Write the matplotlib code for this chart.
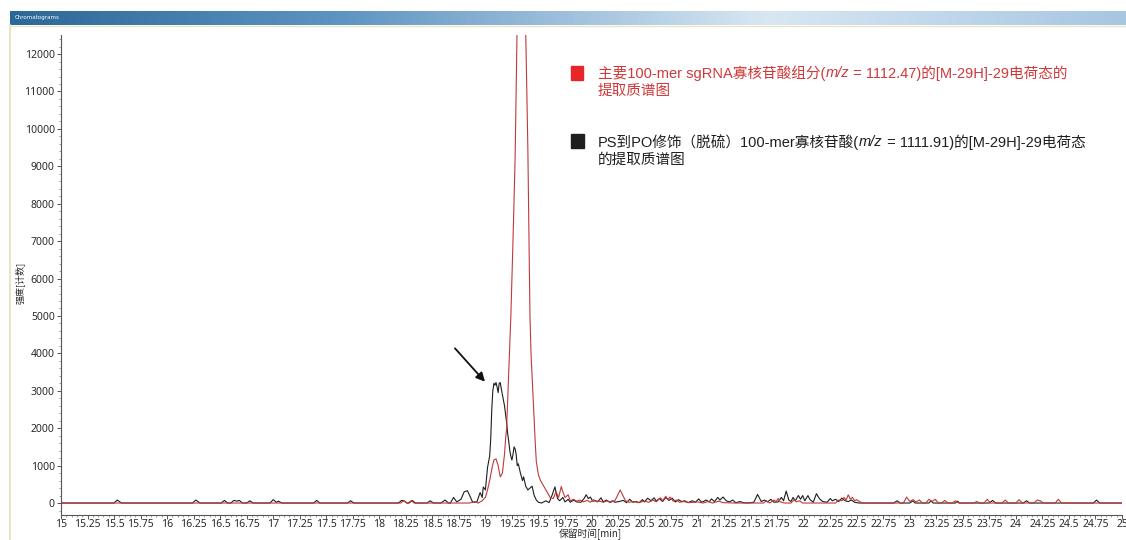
import matplotlib
matplotlib.use("Agg")
import matplotlib.pyplot as plt
import numpy as np
from matplotlib.ticker import MultipleLocator, FixedLocator
from matplotlib.colors import LinearSegmentedColormap

plt.rcParams['font.family'] = ['Noto Sans', 'Noto Sans CJK SC', 'DejaVu Sans']

# ---------------- data ----------------
x_ticks = [15, 15.25, 15.5, 15.75, 16, 16.25, 16.5, 16.75, 17, 17.25, 17.5, 17.75, 18,
           18.25, 18.5, 18.75, 19, 19.25, 19.5, 19.75, 20, 20.25, 20.5, 20.75, 21, 21.25,
           21.5, 21.75, 22, 22.25, 22.5, 22.75, 23, 23.25, 23.5, 23.75, 24, 24.25, 24.5,
           24.75, 25]
y_ticks = [0, 1000, 2000, 3000, 4000, 5000, 6000, 7000, 8000, 9000, 10000, 11000, 12000]

# PS->PO (desulfurised) trace, black
black_t = [15.00, 15.50, 15.53, 15.57, 16.24, 16.27, 16.31, 16.51, 16.54, 16.57, 16.60, 16.63,
           16.66, 16.68, 16.71, 16.75, 16.78, 16.81, 16.97, 17.00, 17.03, 17.05, 17.08, 17.38,
           17.41, 17.44, 17.70, 17.73, 17.76, 18.18, 18.21, 18.24, 18.26, 18.28, 18.31, 18.34,
           18.45, 18.48, 18.51, 18.58, 18.62, 18.65, 18.67, 18.70, 18.73, 18.77, 18.80, 18.83,
           18.86, 18.88, 18.92, 18.95, 18.97, 18.98, 19.00, 19.02, 19.04, 19.05, 19.06, 19.07,
           19.08, 19.09, 19.10, 19.11, 19.12, 19.13, 19.14, 19.15, 19.16, 19.18, 19.20, 19.21,
           19.22, 19.23, 19.24, 19.25, 19.26, 19.27, 19.28, 19.29, 19.30, 19.31, 19.33, 19.35,
           19.36, 19.38, 19.40, 19.42, 19.44, 19.46, 19.48, 19.50, 19.53, 19.57, 19.60, 19.63,
           19.655, 19.68, 19.70, 19.73, 19.75, 19.78, 19.80, 19.83, 19.86, 19.90, 19.93, 19.95,
           19.97, 19.99, 20.01, 20.04, 20.06, 20.09, 20.11, 20.14, 20.17, 20.20, 20.22, 20.26,
           20.30, 20.33, 20.36, 20.39, 20.42, 20.45, 20.48, 20.50, 20.53, 20.56, 20.59, 20.61,
           20.64, 20.67, 20.70, 20.73, 20.76, 20.79, 20.82, 20.85, 20.88, 20.91, 20.95, 20.98,
           21.01, 21.04, 21.08, 21.11, 21.13, 21.16, 21.19, 21.21, 21.24, 21.27, 21.30, 21.33,
           21.36, 21.40, 21.43, 21.47, 21.53, 21.565, 21.60, 21.63, 21.66, 21.69, 21.72, 21.76,
           21.79, 21.81, 21.835, 21.86, 21.88, 21.90, 21.92, 21.95, 21.97, 21.99, 22.01, 22.04,
           22.06, 22.09, 22.12, 22.15, 22.18, 22.22, 22.25, 22.27, 22.30, 22.33, 22.36, 22.39,
           22.42, 22.45, 22.48, 22.52, 22.85, 22.88, 22.91, 23.00, 23.03, 23.05, 23.18, 23.20,
           23.22, 23.43, 23.45, 23.47, 23.75, 23.78, 23.81, 24.07, 24.10, 24.13, 24.73, 24.76,
           24.79, 25.00]
black_i = [0, 0, 80, 0, 0, 80, 0, 0, 70, 0, 0, 70,
           50, 70, 0, 0, 60, 0, 0, 90, 20, 50, 0, 0,
           70, 0, 0, 60, 0, 0, 70, 50, 0, 0, 70, 0,
           0, 60, 0, 0, 80, 0, 0, 150, 30, 100, 300, 330,
           150, 20, 30, 280, 150, 430, 350, 950, 1250, 1700, 2500, 3000,
           3200, 3150, 3220, 3100, 2950, 3200, 3220, 3050, 2900, 2600, 2150, 1850,
           1650, 1400, 1250, 1150, 1300, 1500, 1450, 1300, 1000, 1050, 800, 600,
           700, 450, 350, 400, 450, 200, 80, 20, 0, 60, 10, 220,
           430, 120, 60, 150, 30, 100, 20, 80, 30, 20, 120, 220,
           120, 160, 50, 60, 40, 140, 30, 80, 20, 60, 20, 40,
           70, 10, 100, 20, 40, 10, 90, 30, 130, 60, 140, 50,
           120, 40, 150, 70, 130, 30, 90, 40, 60, 10, 60, 20,
           110, 20, 80, 30, 110, 40, 150, 80, 160, 60, 30, 80,
           10, 40, 10, 0, 20, 230, 40, 80, 30, 100, 20, 30,
           150, 60, 320, 80, 40, 150, 60, 200, 100, 200, 60, 200,
           90, 20, 250, 110, 40, 20, 120, 60, 100, 40, 130, 60,
           40, 80, 20, 0, 0, 60, 0, 0, 60, 0, 0, 60,
           0, 0, 50, 0, 0, 70, 0, 0, 60, 0, 0, 80,
           0, 0]

# main 100-mer sgRNA trace, red
red_t = [15.00, 18.20, 18.23, 18.26, 18.27, 18.30, 18.33, 18.85, 18.90, 18.93, 18.97, 19.00,
         19.02, 19.04, 19.06, 19.08, 19.10, 19.12, 19.14, 19.16, 19.18, 19.19, 19.20, 19.22,
         19.24, 19.26, 19.28, 19.30, 19.31, 19.335, 19.36, 19.38, 19.40, 19.42, 19.43, 19.45,
         19.47, 19.48, 19.50, 19.52, 19.55, 19.58, 19.61, 19.64, 19.665, 19.69, 19.715, 19.73,
         19.75, 19.78, 19.80, 19.83, 19.86, 19.89, 19.92, 19.96, 19.99, 20.02, 20.05, 20.08,
         20.11, 20.15, 20.18, 20.22, 20.245, 20.27, 20.30, 20.32, 20.35, 20.40, 20.44, 20.50,
         20.54, 20.58, 20.61, 20.65, 20.67, 20.70, 20.72, 20.74, 20.77, 20.80, 20.83, 20.87,
         20.92, 21.00, 21.05, 21.10, 21.14, 21.20, 21.24, 21.35, 21.62, 21.65, 21.68, 21.72,
         21.74, 21.76, 21.78, 21.82, 21.88, 21.91, 21.93, 21.96, 21.99, 22.30, 22.33, 22.36,
         22.38, 22.40, 22.42, 22.44, 22.46, 22.48, 22.50, 22.53, 22.56, 22.94, 22.97, 23.00,
         23.03, 23.06, 23.09, 23.12, 23.15, 23.18, 23.21, 23.24, 23.27, 23.30, 23.33, 23.36,
         23.40, 23.43, 23.46, 23.60, 23.63, 23.66, 23.70, 23.73, 23.76, 23.87, 23.90, 23.93,
         24.00, 24.03, 24.06, 24.17, 24.20, 24.23, 24.26, 24.37, 24.40, 24.43, 25.00]
red_i = [0, 0, 60, 0, 0, 60, 0, 0, 40, 0, 60, 150,
         350, 600, 900, 1150, 1180, 1000, 700, 800, 1300, 1700, 2000, 3500,
         5000, 7000, 9200, 12800, 15000, 19500, 17000, 12600, 9500, 5000, 4000, 2800,
         1600, 1100, 750, 600, 450, 300, 150, 120, 300, 150, 440, 300,
         150, 220, 60, 100, 50, 80, 30, 70, 20, 90, 30, 50,
         20, 60, 20, 60, 200, 350, 180, 60, 20, 40, 10, 50,
         20, 80, 30, 140, 60, 180, 90, 160, 50, 80, 20, 40,
         10, 30, 0, 40, 0, 50, 10, 0, 0, 60, 0, 80,
         40, 120, 30, 0, 0, 90, 30, 60, 0, 0, 80, 60,
         150, 80, 220, 100, 150, 60, 90, 30, 0, 0, 160, 40,
         90, 30, 80, 0, 0, 100, 40, 100, 0, 0, 70, 0,
         0, 60, 0, 0, 40, 0, 0, 100, 0, 0, 80, 0,
         0, 90, 0, 0, 80, 60, 0, 0, 100, 0, 0]

legend_red_1 = [("主要100-mer sgRNA寡核苷酸组分(", False), ("m/z", True),
                (" = 1112.47)的[M-29H]-29电荷态的", False)]
legend_red_2 = "提取质谱图"
legend_black_1 = [("PS到PO修饰（脱硫）100-mer寡核苷酸(", False), ("m/z", True),
                  (" = 1111.91)的[M-29H]-29电荷态", False)]
legend_black_2 = "的提取质谱图"

W, H = 1126, 540
fig = plt.figure(figsize=(W / 100, H / 100), dpi=100)
fig.patch.set_facecolor("white")

def fx(px):
    return px / W

def fy(py):
    return 1 - py / H

# ---------------- window chrome ----------------
bar = fig.add_axes([fx(10), fy(25), fx(1126 - 10), (25 - 11) / H])
bar.set_axis_off()
grad = np.linspace(0, 1, 400)
cm = LinearSegmentedColormap.from_list("bar", [(0, "#2b6898"), (0.3, "#5f95c2"),
                                               (0.68, "#d9e7f3"), (1.0, "#a7c6e2")])
bar.imshow(grad[None, :], aspect="auto", cmap=cm, extent=[0, 1, 0, 1])
bar.set_xlim(0, 1)
bar.set_ylim(0, 1)
bar.text(0.004, 0.5, "Chromatograms", color="white", fontsize=4, va="center", ha="left",
         family=["DejaVu Sans"])
fig.add_artist(plt.Line2D([fx(10), fx(10)], [0, fy(25)], color="#e4dfb8", lw=1.2))
fig.add_artist(plt.Line2D([fx(10), 1], [fy(26), fy(26)], color="#e8e4c4", lw=1.0))

# ---------------- main axes ----------------
ax = fig.add_axes([fx(61), fy(515), fx(1122 - 61), (515 - 35) / H])
ax.plot(black_t, black_i, color="#1e1e1e", lw=0.8, zorder=3)
ax.plot(red_t, red_i, color="#c0393b", lw=0.8, zorder=4)
ax.set_xlim(15, 25)
ax.set_ylim(-320, 12510)
ax.spines['top'].set_visible(False)
ax.spines['right'].set_visible(False)
for s in ('left', 'bottom'):
    ax.spines[s].set_color("#555555")
    ax.spines[s].set_linewidth(0.8)
ax.xaxis.set_major_locator(FixedLocator(x_ticks))
ax.set_xticklabels([f"{v:g}" for v in x_ticks])
ax.xaxis.set_minor_locator(MultipleLocator(0.05))
ax.yaxis.set_major_locator(FixedLocator(y_ticks))
ax.set_yticklabels([str(v) for v in y_ticks])
ax.yaxis.set_minor_locator(MultipleLocator(200))
ax.tick_params(axis="both", which="major", length=3, width=0.7, color="#555555",
               labelsize=7.5, labelcolor="#2a2a2a", pad=1.5)
ax.tick_params(axis="x", which="major", pad=0)
ax.tick_params(axis="both", which="minor", length=1.5, width=0.5, color="#777777")
fig.text(fx(20), fy(283), "强度[计数]", fontsize=6.5, family=["Noto Sans CJK SC"],
         color="#2a2a2a", ha="center", va="center", rotation=90)
fig.text(fx(590), fy(534), "保留时间[min]", fontsize=7, family=["Noto Sans CJK SC"],
         color="#2a2a2a", ha="center", va="center")

# arrow
ax.annotate("", xy=(18.996, 3243), xytext=(18.713, 4136),
            arrowprops=dict(arrowstyle="-|>", color="#111111", lw=1.3, mutation_scale=13,
                            shrinkA=0, shrinkB=0))

# ---------------- legend text ----------------
fig.canvas.draw()
renderer = fig.canvas.get_renderer()

def seq_text(x_px, y_px, segments, color):
    x = fx(x_px)
    for s, it in segments:
        t = fig.text(x, fy(y_px), s, fontsize=10.5, color=color, va="center", ha="left",
                     family=["Liberation Sans", "Noto Sans CJK SC"],
                     style="italic" if it else "normal")
        bb = t.get_window_extent(renderer)
        x = bb.x1 / W

red_col = "#d0383a"
fig.add_artist(plt.Rectangle((fx(571), fy(80)), fx(12), 14 / H, color="#e8262a",
                             transform=fig.transFigure))
seq_text(598, 73, legend_red_1, red_col)
seq_text(598, 91, [(legend_red_2, False)], red_col)

fig.add_artist(plt.Rectangle((fx(571), fy(148)), fx(13), 14 / H, color="#1f1f1f",
                             transform=fig.transFigure))
seq_text(598, 142, legend_black_1, "#1f1f1f")
seq_text(598, 160, [(legend_black_2, False)], "#1f1f1f")

fig.savefig("out.png", dpi=100)
